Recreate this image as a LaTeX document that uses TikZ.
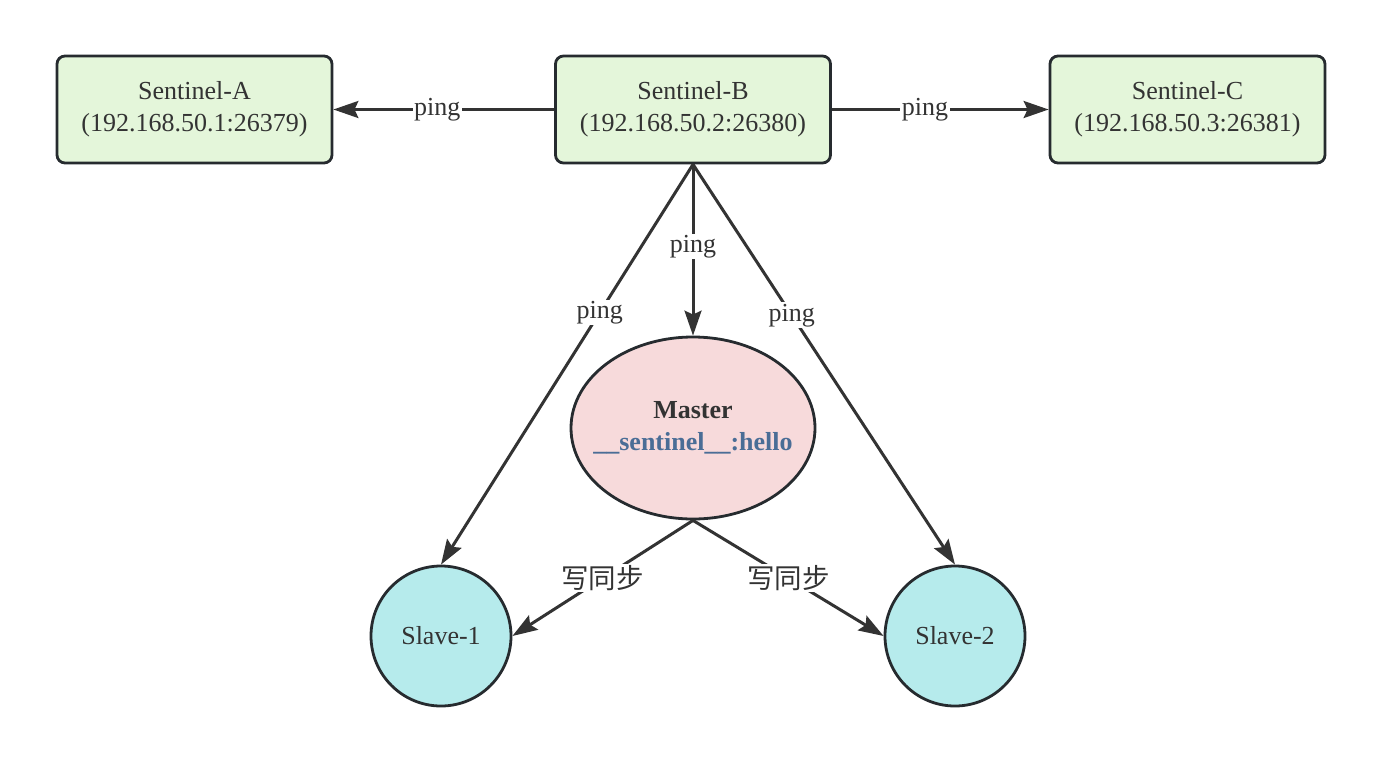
\documentclass[tikz,border=0pt]{standalone}
\usepackage{fontspec}
\setmainfont{Liberation Serif}
\newfontfamily\cjk{Noto Sans CJK SC}
\usetikzlibrary{shapes.geometric,arrows.meta}
\definecolor{edgecol}{HTML}{333333}
\definecolor{sentfill}{HTML}{E4F6DA}
\definecolor{masterfill}{HTML}{F7DADB}
\definecolor{slavefill}{HTML}{B6EBEC}
\definecolor{bordercol}{HTML}{262B2F}
\definecolor{keyblue}{HTML}{4A6D96}
\begin{document}
\begin{tikzpicture}[x=1pt,y=-1pt,
  every node/.style={font=\fontsize{26}{32}\selectfont, text=edgecol},
  sentbox/.style={draw=bordercol, line width=2.8pt, fill=sentfill, rounded corners=8pt,
    minimum width=275pt, minimum height=107pt, align=center, inner sep=0pt},
  masterell/.style={ellipse, draw=bordercol, line width=2.8pt, fill=masterfill,
    minimum width=244pt, minimum height=182pt, inner sep=0pt},
  slavecirc/.style={circle, draw=bordercol, line width=2.8pt, fill=slavefill,
    minimum size=140pt, inner sep=0pt},
  link/.style={draw=edgecol, line width=3pt,
    -{Stealth[length=25pt,width=17pt,inset=4pt]}},
  lbl/.style={fill=white, inner sep=1.5pt},
  cjklbl/.style={fill=white, inner sep=1.5pt, font=\cjk\fontsize{27.5}{32}\selectfont}
]
\useasboundingbox (0,0) rectangle (1384,774);

% sentinels
\node[sentbox] (sa) at (194.5,109.5) {Sentinel-A\\(192.168.50.1:26379)};
\node[sentbox] (sb) at (693,109.5) {Sentinel-B\\(192.168.50.2:26380)};
\node[sentbox] (sc) at (1187.5,109.5) {Sentinel-C\\(192.168.50.3:26381)};

% master (shape and its two text lines) and slaves
\node[masterell] (m) at (693,428) {};
\node[align=center] (mtext) at (m.center) {\textbf{Master}\\\textcolor{keyblue}{\textbf{\_\_sentinel\_\_:hello}}};
\node[slavecirc] (s1) at (441,636) {Slave-1};
\node[slavecirc] (s2) at (955,636) {Slave-2};

% pings from Sentinel-B
\draw[link] (sb.west) -- node[lbl, pos=0.53] {ping} (sa.east);
\draw[link] (sb.east) -- node[lbl, pos=0.43] {ping} (sc.west);
\draw[link] (sb.south) -- node[lbl, pos=0.48] {ping} (m.north);
\draw[link] (sb.south) -- node[lbl, pos=0.37] {ping} (s1.north);
\draw[link] (sb.south) -- node[lbl, pos=0.377] {ping} (s2.north);

% replication
\draw[link] (m.south) -- node[cjklbl, pos=0.5] {写同步} (s1.east);
\draw[link] (m.south) -- node[cjklbl, pos=0.5] {写同步} (s2.west);
\end{tikzpicture}
\end{document}
